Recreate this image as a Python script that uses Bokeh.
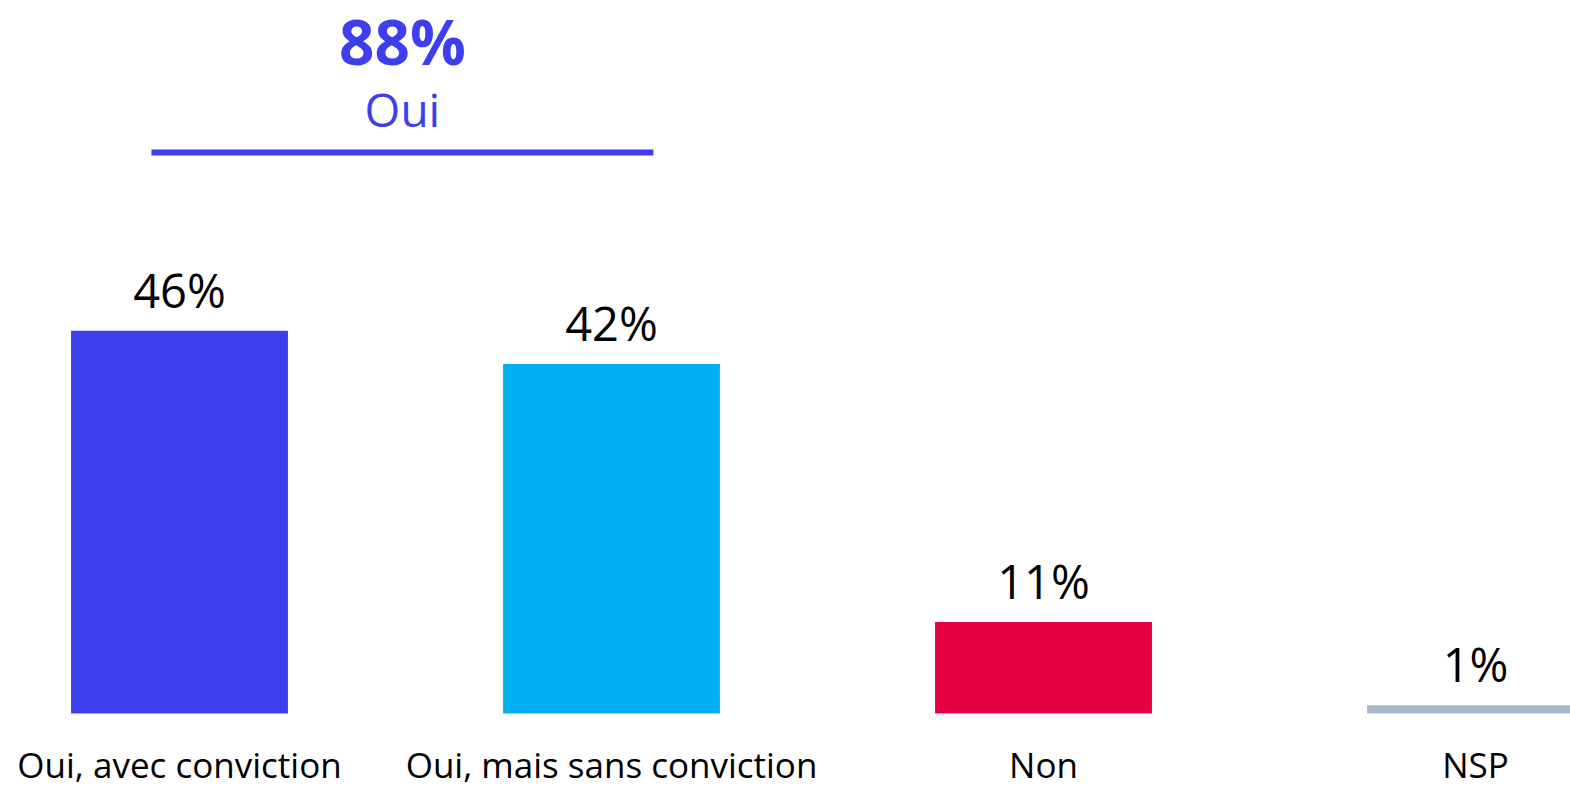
from bokeh.plotting import figure
from bokeh.models import ColumnDataSource, Range1d
from bokeh.core.properties import value
from bokeh.embed import file_html
from bokeh.resources import INLINE

# ---- data ----
categories = ["Oui, avec conviction", "Oui, mais sans conviction", "Non", "NSP"]
values = [46, 42, 11, 1]
value_labels = ["46%", "42%", "11%", "1%"]
colors = ["#3D3FED", "#00B0F0", "#E40045", "#A9B6CB"]
group_total = "88%"
group_name = "Oui"
group_members = [0, 1]

FONT = "Open Sans"
W, H = 1570, 788
PX_X = 432.0      # px per category
PX_Y = 8.32       # px per percent
LEFT_PX = 179.0   # first category centre
BASE_PX = 713.0   # baseline (from top)

x_start = -LEFT_PX / PX_X
x_end = x_start + W / PX_X
y_end = BASE_PX / PX_Y
y_start = y_end - H / PX_Y

p = figure(width=W, height=H, output_backend="svg", toolbar_location=None,
           x_range=Range1d(x_start, x_end), y_range=Range1d(y_start, y_end),
           min_border=0, outline_line_color=None, x_axis_type=None, y_axis_type=None)
p.grid.visible = False
p.background_fill_color = "white"
p.border_fill_color = "white"

xs = list(range(len(categories)))
src = ColumnDataSource(dict(x=xs, top=values, color=colors, lab=value_labels,
                            cat=categories, zero=[0] * len(xs)))

p.vbar(x="x", top="top", bottom=0, width=0.502, fill_color="color",
       line_color=None, source=src)

p.text(x="x", y="top", text="lab", source=src, text_align="center",
       text_baseline="middle", y_offset=-41, text_color="#000000",
       text_font=value(FONT), text_font_size="47px")

p.text(x="x", y="zero", text="cat", source=src, text_align="center",
       text_baseline="middle", y_offset=51, text_color="#000000",
       text_font=value(FONT), text_font_size="35px")

# group bracket
g0, g1 = group_members[0], group_members[-1]
gmid = (g0 + g1) / 2 + 0.016
ghalf = 0.581
gy = 67.43
p.segment(x0=[gmid - ghalf], y0=[gy], x1=[gmid + ghalf], y1=[gy],
          line_color=colors[0], line_width=6)
p.text(x=[gmid], y=[gy], text=[group_name], text_align="center",
       text_baseline="middle", y_offset=-43, text_color=colors[0],
       text_font=value(FONT), text_font_size="46px")
p.text(x=[gmid], y=[gy], text=[group_total], text_align="center",
       text_baseline="middle", y_offset=-111, text_color=colors[0],
       text_font=value(FONT), text_font_size="62px", text_font_style="bold")

open("out.html", "w").write(file_html(p, INLINE))
